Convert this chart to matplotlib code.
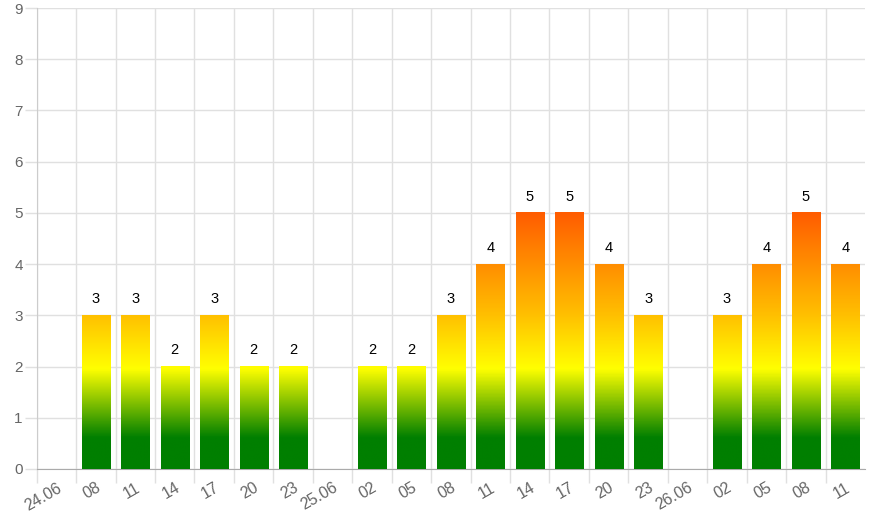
import matplotlib
matplotlib.use("Agg")
import matplotlib.pyplot as plt
import numpy as np
from matplotlib.colors import LinearSegmentedColormap, Normalize

categories = ["24.06", "08", "11", "14", "17", "20", "23", "25.06", "02", "05",
              "08", "11", "14", "17", "20", "23", "26.06", "02", "05", "08", "11"]
values = [0, 3, 3, 2, 3, 2, 2, 0, 2, 2, 3, 4, 5, 5, 4, 3, 0, 3, 4, 5, 4]

plt.rcParams['font.family'] = ['Liberation Sans', 'DejaVu Sans']

fig = plt.figure(figsize=(8.75, 5.25), dpi=100)
ax = fig.add_axes([36.7/875, 1-469/525, (865-36.7)/875, (469-8)/525])

x = np.arange(len(categories))
bars = ax.bar(x, values, width=0.71, color='none', edgecolor='none', zorder=3)

# gradient defined in data space
vmax = 5.0
cmap = LinearSegmentedColormap.from_list(
    "g", [(0.0, "#007f00"), (0.6/vmax, "#007f00"), (1.95/vmax, "#ffff00"),
          (3.0/vmax, "#ffc000"), (1.0, "#ff5c00")])
norm = Normalize(0, vmax)

for b, v in zip(bars, values):
    if v <= 0:
        continue
    x0 = b.get_x(); w = b.get_width(); h = b.get_height()
    grad = np.linspace(0, h, 256).reshape(-1, 1)
    ax.imshow(grad, extent=(x0, x0 + w, 0, h), origin='lower', aspect='auto',
              cmap=cmap, norm=norm, zorder=3, interpolation='bilinear')
    ax.text(x0 + w/2, h + 0.18, str(v), ha='center', va='bottom',
            fontsize=10.5, color='#000000', zorder=4)

ax.set_xlim(-0.5, len(categories) - 0.5)
ax.set_ylim(0, 9)
ax.set_aspect('auto')

ax.set_xticks(x)
ax.set_xticklabels(categories, rotation=30, ha='right', rotation_mode='anchor',
                   fontsize=11.5, color='#666666')
ax.tick_params(axis='x', which='major', length=0, pad=8)
ax.set_xticks(np.arange(-0.5, len(categories) - 0.5, 1.0), minor=True)
ax.tick_params(axis='x', which='minor', length=10, color='#e0e0e0', width=1)
ax.grid(axis='x', which='minor', color='#e0e0e0', linewidth=1, zorder=0)

ax.set_yticks(np.arange(0, 10, 1))
ax.tick_params(axis='y', length=9, color='#e0e0e0', width=1, pad=1,
               labelsize=11, labelcolor='#666666')
ax.grid(axis='y', which='major', color='#e0e0e0', linewidth=1, zorder=0)
ax.set_axisbelow(True)

for s in ['top', 'right']:
    ax.spines[s].set_visible(False)
ax.spines['left'].set_color('#cccccc')
ax.spines['bottom'].set_color('#aaaaaa')

fig.savefig("out.png", dpi=100)
